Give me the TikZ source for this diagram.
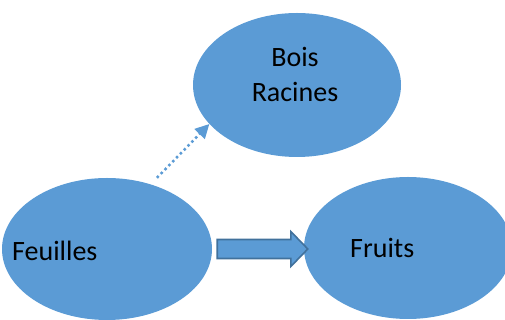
\documentclass[tikz,border=0pt]{standalone}
\usepackage{fontspec}
\setmainfont{Carlito}
\usepackage{tikz}
\usetikzlibrary{calc,positioning,arrows.meta}
\usetikzlibrary{shapes.geometric}
\definecolor{ofblue}{HTML}{5B9BD5}
\definecolor{ofedge}{HTML}{41719C}
\tikzset{
  bubble/.style={
    shape = ellipse,
    fill = ofblue,
    inner sep = 0pt
  },
}
\tikzset{
  word/.style={
    inner sep = 0pt,
    font = \fontsize{28}{35}\selectfont
  },
  dotarrow/.style={
    ofblue,
    line width = 2.5pt,
    dash pattern = on 2.5pt off 3pt,
    -{Triangle[length=14pt,width=14pt]}
  },
  blockarrow/.style={
    fill = ofblue,
    draw = ofedge,
    line width = 1.6pt,
    line join = miter
  },
}

\begin{document}
\begin{tikzpicture}[x=1pt,y=1pt]
        \clip (0,0) rectangle (505,320);
        \node[bubble, minimum width=208pt, minimum height=144pt] (bois) at (297,235) {};
        \node[bubble, minimum width=210pt, minimum height=142pt] (feuilles) at (107,71) {};
        \node[bubble, minimum width=208pt, minimum height=142pt] (fruits) at (408,72) {};
        \node[word, align=center] (boistxt) at ([shift={(-2pt,10.5pt)}]bois.center) {Bois\\Racines};
        \node[word, anchor=base west] (feuillestxt) at ([shift={(-95pt,-12pt)}]feuilles.center) {Feuilles};
        \node[word, anchor=base west] (fruitstxt) at ([shift={(-58pt,-10pt)}]fruits.center) {Fruits};
        % arrows
        \draw[dotarrow, shorten <=9pt] (feuilles.56) -- (bois.204);
        \draw[blockarrow] let \p1=(feuilles.east), \p2=(fruits.west) in
            (\x1+5pt,\y1+9.5pt) -- (\x2-13pt,\y1+9.5pt) -- (\x2-13pt,\y1+17.5pt)
            -- (\x2+4pt,\y1) -- (\x2-13pt,\y1-17.5pt) -- (\x2-13pt,\y1-9.5pt)
            -- (\x1+5pt,\y1-9.5pt) -- cycle;
\end{tikzpicture}
\end{document}
